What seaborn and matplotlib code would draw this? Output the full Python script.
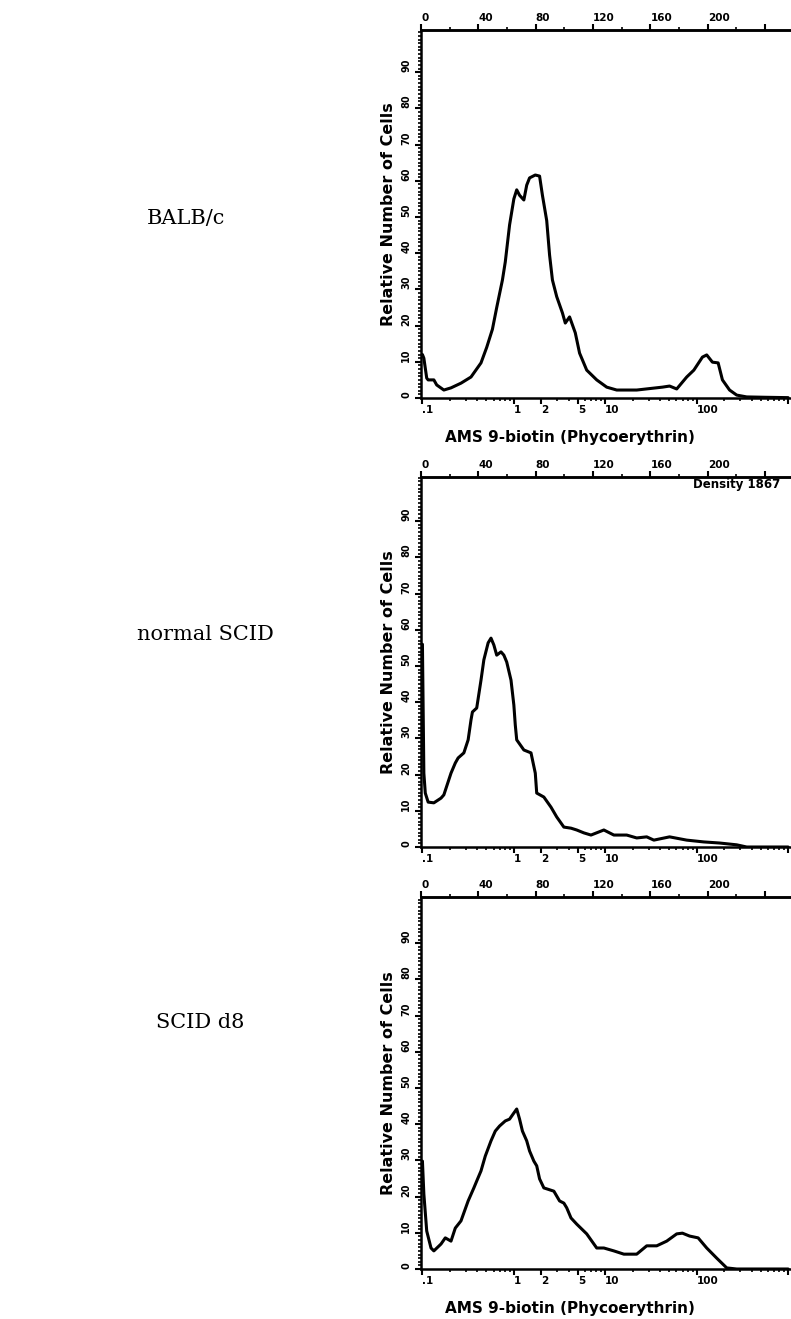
import numpy as np
import pandas as pd
import matplotlib
matplotlib.use('Agg')
import matplotlib.pyplot as plt
import seaborn as sns
from matplotlib.ticker import MultipleLocator, FixedLocator, NullFormatter

# histogram channels (0-256, 64 channels per decade) and relative cell counts
balb_ch = [0, 1, 3, 4, 8, 10, 15, 20, 27, 34, 41, 45, 49, 52, 56, 58, 61, 64, 66, 68, 71, 73, 75, 79, 82,
           84, 87, 89, 91, 94, 98, 100, 103, 107, 110, 115, 122, 129, 136, 150, 168, 173, 178, 185, 190,
           196, 199, 203, 207, 210, 215, 220, 227, 240, 256]
balb_y = [12, 11, 5.5, 5, 5, 3.6, 2.2, 2.8, 4.1, 5.8, 9.7, 14, 19, 25, 32.6, 37.6, 47.8, 55, 57.5, 56,
          54.7, 58.8, 60.8, 61.6, 61.3, 56, 49, 39.5, 32.6, 28, 23.5, 20.7, 22.4, 18, 12.4, 7.7, 5, 3,
          2.2, 2.2, 3, 3.3, 2.5, 5.8, 7.7, 11.3, 11.9, 9.9, 9.7, 5, 2.2, 0.8, 0.3, 0.2, 0.1]

scid_ch = [0, 1, 2, 4, 8, 13, 15, 20, 23, 25, 29, 32, 34, 35, 38, 41, 43, 46, 48, 50, 52, 55, 57, 59, 62,
           64, 65, 66, 71, 76, 79, 80, 85, 90, 94, 99, 104, 108, 113, 118, 127, 134, 143, 150, 157, 162,
           173, 185, 197, 208, 220, 227, 256]
scid_y = [56, 20.4, 14.9, 12.4, 12.2, 13.5, 14.4, 20.4, 23.2, 24.6, 26, 29.6, 35.1, 37.3, 38.4, 46.1,
          51.7, 56.4, 57.7, 55.8, 53, 53.9, 53, 51.1, 46.1, 39.2, 33.7, 29.6, 26.8, 26, 20.4, 14.9, 13.8,
          11, 8.3, 5.5, 5.2, 4.7, 3.9, 3.3, 4.7, 3.3, 3.3, 2.5, 2.8, 1.9, 2.8, 1.9, 1.4, 1.1, 0.6, 0, 0]

d8_ch = [0, 1, 3, 6, 8, 13, 16, 20, 23, 27, 32, 36, 38, 41, 44, 48, 51, 54, 58, 61, 64, 66, 68, 70, 73,
         75, 78, 80, 82, 85, 92, 96, 99, 101, 104, 108, 115, 122, 127, 134, 141, 150, 157, 164, 171, 178,
         182, 187, 193, 199, 206, 213, 220, 256]
d8_y = [29.8, 20.7, 10.5, 5.8, 5, 6.9, 8.6, 7.7, 11.3, 13.3, 18.8, 22.4, 24.3, 27.1, 31.2, 35.4, 38.1,
        39.5, 40.9, 41.4, 43.1, 44.2, 41.4, 38.1, 35.4, 32.6, 29.8, 28.5, 24.9, 22.4, 21.5, 18.8, 18.2,
        16.9, 14.1, 12.4, 9.7, 5.8, 5.8, 5, 4.1, 4.1, 6.4, 6.4, 7.7, 9.7, 9.9, 9.1, 8.6, 5.8, 3, 0.3, 0, 0]

sample_names = ['BALB/c', 'normal SCID', 'SCID d8']
top_ticks = [0, 40, 80, 120, 160, 200, 240]
top_labels = ['0', '40', '80', '120', '160', '200', '']
bottom_ticks = [0.1, 1, 2, 5, 10, 100, 1000]
bottom_labels = ['.1', '1', '2', '5', '10', '100', '']
y_ticks = [0, 10, 20, 30, 40, 50, 60, 70, 80, 90]
xlabel = 'AMS 9-biotin (Phycoerythrin)'
ylabel = 'Relative Number of Cells'

sns.set_style('ticks')
plt.rcParams['font.family'] = ['DejaVu Sans']
plt.rcParams['text.color'] = 'black'
plt.rcParams['axes.labelcolor'] = 'black'
plt.rcParams['axes.edgecolor'] = 'black'
plt.rcParams['xtick.color'] = 'black'
plt.rcParams['ytick.color'] = 'black'


def ch_to_fl(c):
    return 0.1 * 10 ** (np.asarray(c, dtype=float) / 64)


def fl_to_ch(v):
    v = np.clip(np.asarray(v, dtype=float), 1e-6, None)
    return 64 * np.log10(v / 0.1)


W, H = 791, 1319
# (top px, bottom px) of each panel
boxes = [(30, 398), (477, 847), (897, 1269)]
series = [(balb_ch, balb_y), (scid_ch, scid_y), (d8_ch, d8_y)]
name_pos = [(186, 218), (205, 634), (200, 1023)]

fig = plt.figure(figsize=(W / 100, H / 100), dpi=100)

for i, ((top, bot), (ch, yv)) in enumerate(zip(boxes, series)):
    ax = fig.add_axes([421 / W, 1 - bot / H, 374 / W, (bot - top) / H])
    df = pd.DataFrame({'fl': ch_to_fl(ch), 'count': yv})
    sns.lineplot(data=df, x='fl', y='count', ax=ax, color='black', lw=2.2,
                 estimator=None, sort=False)
    ax.set_xscale('log')
    ax.set_xlim(ch_to_fl(-1), ch_to_fl(260.8))
    ax.set_ylim(0, (bot - top) / 3.62)

    ax.set_xticks(bottom_ticks, labels=bottom_labels)
    ax.xaxis.set_minor_locator(FixedLocator([3, 4, 6, 7, 8, 9, 20, 30, 40, 50, 60, 70, 80, 90,
                                             200, 300, 400, 500, 600, 700, 800, 900,
                                             0.2, 0.3, 0.4, 0.5, 0.6, 0.7, 0.8, 0.9]))
    ax.xaxis.set_minor_formatter(NullFormatter())
    ax.tick_params(axis='x', which='major', direction='out', length=4, width=1.5,
                   labelsize=7.5, pad=1)
    ax.tick_params(axis='x', which='minor', direction='out', length=2, width=1.2)
    for lab in ax.get_xticklabels():
        lab.set_horizontalalignment('left')
        lab.set_fontweight('bold')

    ax.set_yticks(y_ticks, labels=[str(t) for t in y_ticks])
    ax.yaxis.set_minor_locator(MultipleLocator(1))
    ax.tick_params(axis='y', which='major', direction='out', length=4, width=1.5,
                   labelsize=7, pad=3)
    ax.tick_params(axis='y', which='minor', direction='out', length=2, width=1.2)
    for lab in ax.get_yticklabels():
        lab.set_rotation(90)
        lab.set_verticalalignment('bottom')
        lab.set_horizontalalignment('right')
        lab.set_fontweight('bold')

    secax = ax.secondary_xaxis('top', functions=(fl_to_ch, ch_to_fl))
    secax.set_xticks(top_ticks, labels=top_labels)
    secax.xaxis.set_minor_locator(FixedLocator(list(range(20, 260, 40))))
    secax.xaxis.set_minor_formatter(NullFormatter())
    secax.tick_params(axis='x', which='major', direction='out', length=4, width=1.5,
                      labelsize=7.5, pad=1, colors='black')
    secax.tick_params(axis='x', which='minor', direction='out', length=2, width=1.2,
                      colors='black')
    for lab in secax.get_xticklabels():
        lab.set_horizontalalignment('left')
        lab.set_fontweight('bold')
    secax.spines['top'].set_linewidth(1.8)
    secax.spines['top'].set_color('black')

    for side in ['left', 'bottom', 'top']:
        ax.spines[side].set_linewidth(1.8)
    ax.spines['right'].set_visible(False)

    ax.set_ylabel(ylabel, fontsize=11.5, fontweight='bold', labelpad=4)
    if i == 1:
        ax.set_xlabel('')
        ax.text(0.727, 0.981, 'Density 1867', transform=ax.transAxes, fontsize=8.5,
                fontweight='bold', ha='left', va='center')
    else:
        ax.set_xlabel(xlabel, fontsize=11, fontweight='bold')
        ax.xaxis.set_label_coords((570 - 421) / 374, -32 / (bot - top))

    nx, ny = name_pos[i]
    fig.text(nx / W, 1 - ny / H, sample_names[i], fontsize=15, family='DejaVu Serif',
             ha='center', va='center')

fig.savefig('out.png', dpi=100, facecolor='white')
